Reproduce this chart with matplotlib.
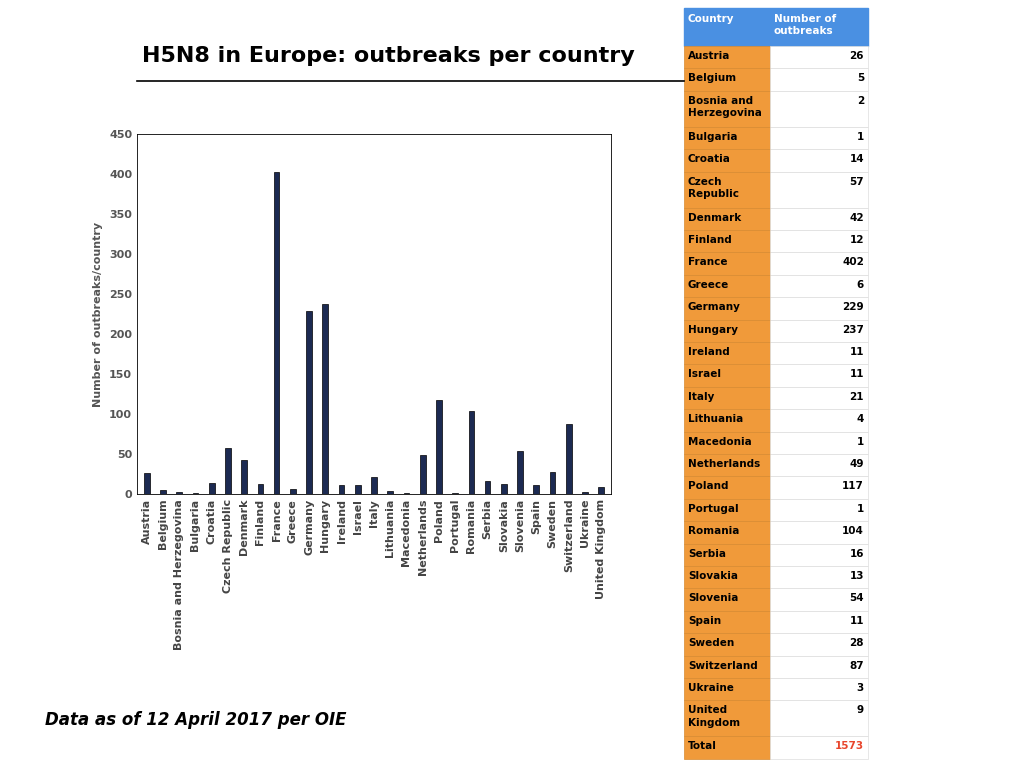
import matplotlib.pyplot as plt
from matplotlib.patches import Rectangle
from matplotlib.lines import Line2D

countries = ['Austria', 'Belgium', 'Bosnia and Herzegovina', 'Bulgaria', 'Croatia',
             'Czech Republic', 'Denmark', 'Finland', 'France', 'Greece', 'Germany',
             'Hungary', 'Ireland', 'Israel', 'Italy', 'Lithuania', 'Macedonia',
             'Netherlands', 'Poland', 'Portugal', 'Romania', 'Serbia', 'Slovakia',
             'Slovenia', 'Spain', 'Sweden', 'Switzerland', 'Ukraine', 'United Kingdom']
outbreaks = [26, 5, 2, 1, 14, 57, 42, 12, 402, 6, 229, 237, 11, 11, 21, 4, 1,
             49, 117, 1, 104, 16, 13, 54, 11, 28, 87, 3, 9]
table_names = ['Austria', 'Belgium', 'Bosnia and\nHerzegovina', 'Bulgaria', 'Croatia',
               'Czech\nRepublic', 'Denmark', 'Finland', 'France', 'Greece', 'Germany',
               'Hungary', 'Ireland', 'Israel', 'Italy', 'Lithuania', 'Macedonia',
               'Netherlands', 'Poland', 'Portugal', 'Romania', 'Serbia', 'Slovakia',
               'Slovenia', 'Spain', 'Sweden', 'Switzerland', 'Ukraine', 'United\nKingdom']

W, H = 1024, 768
fig = plt.figure(figsize=(10.24, 7.68), dpi=100)

def fx(x): return x / W
def fy(y): return 1 - y / H

ax = fig.add_axes([fx(137), fy(494), fx(611) - fx(137), fy(134) - fy(494)])
ax.bar(range(len(countries)), outbreaks, width=0.35, color='#1c2a52', edgecolor='black', linewidth=0.5)
ax.set_xlim(-0.6, len(countries) - 0.4)
ax.set_ylim(0, 450)
ax.set_yticks(range(0, 451, 50))
ax.set_xticks(range(len(countries)))
ax.set_xticklabels(countries, rotation=90, fontsize=8, fontweight='bold', color='#444444')
ax.tick_params(axis='y', labelsize=8, colors='#555555', length=0)
ax.tick_params(axis='x', length=0)
for lab in ax.get_yticklabels():
    lab.set_fontweight('bold')
ax.set_ylabel('Number of outbreaks/country', fontsize=8, fontweight='bold', color='#555555')
for s in ax.spines.values():
    s.set_linewidth(0.6)

fig.text(fx(388), fy(56), 'H5N8 in Europe: outbreaks per country', ha='center', va='center',
         fontsize=16, fontweight='bold')
fig.add_artist(Line2D([fx(137), fx(684)], [fy(81), fy(81)], color='black', lw=1.2))
fig.text(fx(45), fy(720), 'Data as of 12 April 2017 per OIE', ha='left', va='center',
         fontsize=12, fontweight='bold', style='italic')

# table
x0, x1, x2 = 684, 770, 868
orange, blue = '#f09a3a', '#4a90e2'
fig.add_artist(Rectangle((fx(x0), fy(46)), fx(x2) - fx(x0), fy(8) - fy(46), color=blue, transform=fig.transFigure))
fig.text(fx(x0 + 4), fy(14), 'Country', color='white', fontsize=7.5, fontweight='bold', va='top')
fig.text(fx(x1 + 4), fy(14), 'Number of\noutbreaks', color='white', fontsize=7.5, fontweight='bold', va='top')

rows = list(zip(table_names, outbreaks)) + [('Total', sum(outbreaks))]
y = 46
for name, val in rows:
    h = 36 if '\n' in name else 22.4
    fig.add_artist(Rectangle((fx(x0), fy(y + h)), fx(x1) - fx(x0), fy(y) - fy(y + h),
                             facecolor=orange, edgecolor='#d88a30', lw=0.5, transform=fig.transFigure))
    fig.add_artist(Rectangle((fx(x1), fy(y + h)), fx(x2) - fx(x1), fy(y) - fy(y + h),
                             facecolor='white', edgecolor='#dddddd', lw=0.5, transform=fig.transFigure))
    fig.text(fx(x0 + 4), fy(y + 5), name, fontsize=7.5, fontweight='bold', va='top', linespacing=1.3)
    fig.text(fx(x2 - 4), fy(y + 5), str(val), fontsize=7.5, fontweight='bold', va='top', ha='right',
             color='#e8452c' if name == 'Total' else 'black')
    y += h

fig.savefig('out.png', dpi=100)
